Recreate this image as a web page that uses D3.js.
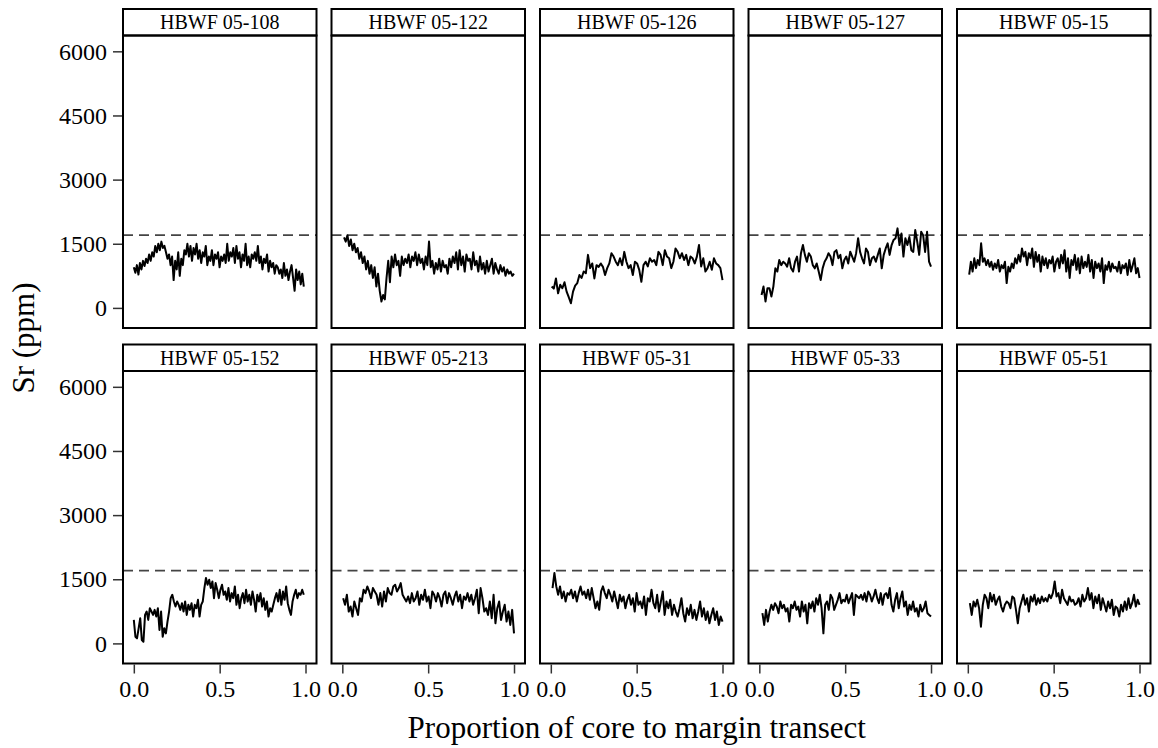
<!DOCTYPE html>
<html>
<head>
<meta charset="utf-8">
<script src="https://cdn.jsdelivr.net/npm/d3@7"></script>
<style>
  body { margin: 0; background: #fff; }
  svg { display: block; font-family: "Liberation Serif", "Times New Roman", serif; }
  .tick-label { font-family: "Liberation Serif", "Times New Roman", serif; font-size: 24px; fill: #000; }
  .strip-label { font-size: 20px; fill: #000; }
  .axis-title { font-size: 31px; fill: #000; }
</style>
</head>
<body>
<svg id="chart" width="1158" height="748"></svg>
<script>
// --- data ---
const sampleNames = [
    "HBWF 05-108", "HBWF 05-122", "HBWF 05-126", "HBWF 05-127", "HBWF 05-15",
    "HBWF 05-152", "HBWF 05-213", "HBWF 05-31", "HBWF 05-33", "HBWF 05-51"
];

// first and last transect position of each sample's profile
const transectStart = [0.0, 0.01, 0.005, 0.013, 0.008, 0.0, 0.005, 0.01, 0.018, 0.012];
const transectEnd = [0.99, 1.0, 1.0, 1.0, 1.0, 0.99, 1.0, 1.0, 1.0, 1.0];

const sr108 = [950, 820, 1000, 780, 1050, 900, 1100, 980, 1150, 1050, 1250, 1100, 1300, 1200, 1450, 1300, 1500, 1350, 1550, 1400, 1450,
    1300, 1150, 1250, 1000, 1200, 650, 1100, 900, 1300, 750, 1150, 1000, 1350, 1250, 1500, 1200, 1450, 1100, 1400, 1250, 1500, 1150, 1350,
    1050, 1300, 1200, 1450, 1000, 1200, 1100, 1350, 1000, 1250, 1150, 1300, 950, 1200, 1100, 1250, 1050, 1500, 1100, 1300, 1200, 1400,
    1050, 1450, 1150, 1300, 950, 1250, 1100, 1500, 1000, 1200, 950, 1250, 1150, 1300, 1100, 1450, 1050, 1200, 900, 1150, 1050, 1250, 850,
    1100, 950, 1050, 800, 1000, 950, 800, 900, 700, 1050, 750, 900, 650, 850, 1000, 700, 400, 900, 650, 850, 550, 800, 500];
const sr122 = [1650, 1550, 1700, 1450, 1600, 1350, 1500, 1300, 1400, 1150, 1300, 1050, 1200, 900, 1100, 800, 1000, 700, 950, 500, 800,
    400, 150, 300, 200, 700, 1100, 600, 1200, 950, 1250, 1000, 1100, 750, 1200, 1000, 1150, 1050, 1250, 950, 1200, 1100, 1300, 1000, 1250,
    1050, 1150, 900, 1200, 1000, 1550, 950, 1100, 800, 1050, 900, 1150, 850, 1100, 950, 1000, 800, 1150, 950, 1200, 1050, 1300, 900, 1350,
    1000, 1200, 850, 1250, 1100, 1150, 900, 1300, 1000, 1100, 850, 1200, 900, 1050, 800, 1100, 850, 1000, 1150, 800, 1050, 900, 800, 1000,
    850, 950, 750, 900, 800, 850, 750, 800];
const sr126 = [500, 450, 690, 340, 540, 460, 600, 380, 250, 110, 380, 520, 580, 770, 700, 850, 810, 1240, 930, 1040, 690, 1000, 960,
    1040, 960, 770, 930, 1040, 1280, 1200, 1080, 1000, 1160, 1000, 1310, 1080, 930, 1000, 770, 1080, 1040, 890, 610, 1000, 1080, 970, 1160,
    1080, 1120, 1000, 1310, 1240, 1000, 1350, 1200, 1160, 930, 1080, 1390, 1310, 1160, 1280, 1120, 1240, 1000, 1200, 1160, 1040, 1200,
    1470, 970, 1160, 850, 930, 1080, 890, 1160, 1040, 1000, 930, 650];
const sr127 = [300, 500, 150, 460, 460, 265, 500, 925, 850, 1120, 1000, 1080, 1040, 965, 1160, 925, 850, 1080, 1200, 850, 1280, 1470,
    1240, 1080, 1280, 1200, 1000, 925, 1040, 850, 650, 925, 1080, 1160, 1280, 1200, 1000, 1310, 1350, 1160, 1240, 925, 1120, 1200, 1040,
    1315, 1200, 1080, 1280, 1630, 1310, 1160, 1040, 1390, 1310, 1000, 1160, 1200, 1080, 1240, 1390, 925, 1240, 1390, 1510, 1240, 1470,
    1590, 1630, 1860, 1470, 1740, 1200, 1630, 1470, 1660, 1350, 1310, 1820, 1550, 1240, 1780, 1700, 1310, 1780, 1080, 965];
const sr15 = [780, 1080, 850, 1160, 930, 1120, 1000, 1510, 1080, 1160, 1000, 1120, 960, 1080, 890, 1040, 930, 1120, 850, 1000, 930, 1080,
    580, 960, 850, 1040, 930, 1160, 1040, 1240, 1080, 1390, 1200, 1310, 1000, 1280, 1160, 1390, 960, 1310, 1080, 1240, 850, 1200, 1000,
    1160, 930, 1120, 1040, 1200, 850, 1080, 1160, 930, 1240, 1040, 1350, 850, 1160, 700, 1120, 1000, 1240, 890, 1160, 810, 1200, 930, 1080,
    960, 1240, 850, 1120, 700, 1080, 930, 1040, 850, 1160, 580, 1000, 890, 1080, 850, 1040, 930, 960, 850, 1080, 810, 1000, 930, 1040, 770,
    1120, 850, 1000, 1160, 810, 930, 700];
const sr152 = [549, 157, 118, 353, 588, 78, 40, 666, 745, 549, 823, 745, 666, 784, 627, 823, 314, 745, 157, 353, 235, 510, 745, 1058,
    1137, 980, 862, 980, 902, 784, 941, 745, 980, 666, 902, 784, 941, 627, 902, 823, 1019, 627, 902, 980, 1294, 1529, 1372, 1490, 1294,
    1450, 1058, 1411, 1254, 1058, 1254, 1372, 1137, 1215, 1019, 1294, 980, 1176, 1058, 1333, 902, 1137, 823, 1058, 1176, 941, 1254, 980,
    1137, 902, 1215, 1019, 745, 1137, 980, 1176, 862, 1058, 784, 980, 627, 823, 745, 902, 1058, 1176, 980, 1254, 902, 1215, 1019, 1333,
    941, 784, 666, 980, 1137, 1254, 1058, 1176, 1137, 1254, 1137];
const sr213 = [1058, 902, 1137, 745, 862, 627, 980, 823, 666, 1058, 980, 1254, 1176, 1333, 1215, 1058, 1294, 1215, 1137, 902, 1176, 862,
    1215, 980, 1294, 1176, 1137, 1333, 1372, 1215, 1294, 1411, 1137, 1058, 980, 1098, 941, 1176, 980, 1058, 1215, 902, 1137, 1019, 1254,
    980, 1098, 823, 1215, 1137, 980, 1176, 1058, 862, 1137, 1215, 941, 1176, 1058, 902, 1098, 1215, 980, 1137, 823, 1098, 1019, 1176, 980,
    1137, 902, 1058, 1254, 706, 1294, 1058, 745, 823, 666, 980, 588, 1137, 470, 823, 980, 549, 745, 902, 510, 745, 431, 784, 235];
const sr31 = [1294, 1646, 1333, 1137, 1333, 1058, 1215, 980, 1176, 1137, 1254, 1058, 1215, 980, 1176, 1333, 1137, 1215, 1058, 1254, 1019,
    1294, 1058, 823, 980, 784, 1215, 1333, 1176, 1058, 1254, 1137, 980, 1215, 1019, 823, 1137, 980, 1098, 823, 1019, 1137, 902, 1058, 745,
    1176, 902, 980, 823, 1098, 666, 1058, 980, 1254, 941, 823, 1137, 745, 980, 1215, 666, 980, 823, 1019, 666, 902, 745, 627, 823, 1058,
    706, 510, 823, 666, 902, 588, 784, 549, 745, 980, 627, 823, 549, 745, 470, 666, 823, 549, 745, 431, 627, 510];
const sr33 = [706, 431, 784, 510, 745, 902, 784, 941, 862, 706, 980, 823, 902, 745, 823, 510, 902, 823, 980, 784, 862, 627, 980, 745, 902,
    470, 941, 823, 980, 745, 1058, 902, 1137, 823, 235, 902, 980, 784, 1137, 1058, 784, 902, 1019, 1176, 941, 1019, 980, 1137, 941, 1058,
    1176, 666, 1137, 1098, 1058, 1137, 1019, 1176, 980, 1215, 1137, 980, 1098, 1254, 1058, 941, 1176, 902, 1137, 1176, 1058, 1294, 902,
    745, 1019, 1176, 823, 1058, 1215, 862, 980, 666, 902, 784, 980, 745, 823, 627, 902, 745, 823, 980, 706, 666, 627];
const sr51 = [941, 666, 980, 862, 1019, 823, 392, 902, 1137, 1058, 823, 1176, 980, 1137, 902, 1019, 1098, 862, 745, 902, 980, 941, 823,
    1098, 1058, 784, 470, 823, 980, 1137, 902, 1058, 745, 1098, 980, 1137, 902, 1058, 941, 1098, 980, 1058, 980, 1137, 1058, 1176, 1450,
    1098, 1176, 941, 1254, 1058, 980, 902, 1098, 980, 1019, 902, 941, 1058, 862, 1137, 980, 1058, 1294, 1019, 1176, 823, 1098, 941, 1137,
    784, 1058, 902, 745, 980, 823, 1019, 666, 862, 823, 627, 902, 745, 980, 784, 1058, 823, 941, 1137, 862, 1019, 902];

const srSeries = [sr108, sr122, sr126, sr127, sr15, sr152, sr213, sr31, sr33, sr51];

const srThreshold = 1700;           // dashed reference line
const yTicks = [0, 1500, 3000, 4500, 6000];
const xTicks = [0.0, 0.5, 1.0];

// --- layout ---
const nCols = 5;
const panelW = 193.5, colStep = 208.5, firstLeft = 123;
const panelH = 292.5, stripH = 26.5;
const panelTops = [35.5, 371];

const svg = d3.select("#chart");

const x = d3.scaleLinear().domain([-0.063, 1.064]).range([0, panelW]);
const y = d3.scaleLinear().domain([-470, 6370]).range([panelH, 0]);

const line = d3.line()
    .x(d => x(d.pos))
    .y(d => y(d.sr));

function styleAxis(axisG) {
    axisG.attr("font-family", null).attr("font-size", null);
    axisG.select(".domain").remove();
    axisG.selectAll("line").attr("stroke", "#333").attr("stroke-width", 1.5);
    axisG.selectAll("text").attr("class", "tick-label");
}

sampleNames.forEach((name, i) => {
    const col = i % nCols, row = Math.floor(i / nCols);
    const g = svg.append("g")
        .attr("transform", `translate(${firstLeft + col * colStep}, ${panelTops[row]})`);

    // strip header
    g.append("rect")
        .attr("x", 0).attr("y", -stripH)
        .attr("width", panelW).attr("height", stripH)
        .attr("fill", "#fff").attr("stroke", "#000").attr("stroke-width", 2);
    g.append("text")
        .attr("class", "strip-label")
        .attr("x", panelW / 2).attr("y", -stripH + 20)
        .attr("text-anchor", "middle")
        .text(name);

    // profile points spread along the transect
    const vals = srSeries[i];
    const s = transectStart[i], e = transectEnd[i];
    const pts = vals.map((v, k) => ({ pos: s + (e - s) * k / (vals.length - 1), sr: v }));

    g.append("line")
        .attr("x1", 0).attr("x2", panelW)
        .attr("y1", y(srThreshold)).attr("y2", y(srThreshold))
        .attr("stroke", "#444").attr("stroke-width", 1.8)
        .attr("stroke-dasharray", "10,6");

    g.append("path")
        .datum(pts)
        .attr("d", line)
        .attr("fill", "none")
        .attr("stroke", "#000")
        .attr("stroke-width", 2)
        .attr("stroke-linejoin", "round");

    // panel border
    g.append("rect")
        .attr("width", panelW).attr("height", panelH)
        .attr("fill", "none").attr("stroke", "#000").attr("stroke-width", 2);

    if (col === 0) {
        const yAxis = g.append("g")
            .attr("transform", "translate(-1,0)")
            .call(d3.axisLeft(y).tickValues(yTicks).tickSize(9).tickPadding(6).tickFormat(d3.format("d")));
        styleAxis(yAxis);
    }
    if (row === 1) {
        const xAxis = g.append("g")
            .attr("transform", `translate(0, ${panelH + 1})`)
            .call(d3.axisBottom(x).tickValues(xTicks).tickSize(9).tickPadding(6).tickFormat(d3.format(".1f")));
        styleAxis(xAxis);
    }
});

// axis titles
svg.append("text")
    .attr("class", "axis-title")
    .attr("text-anchor", "middle")
    .attr("transform", "translate(34, 338) rotate(-90)")
    .text("Sr (ppm)");

svg.append("text")
    .attr("class", "axis-title")
    .attr("text-anchor", "middle")
    .attr("x", firstLeft + (4 * colStep + panelW) / 2)
    .attr("y", 738)
    .text("Proportion of core to margin transect");
</script>
</body>
</html>
